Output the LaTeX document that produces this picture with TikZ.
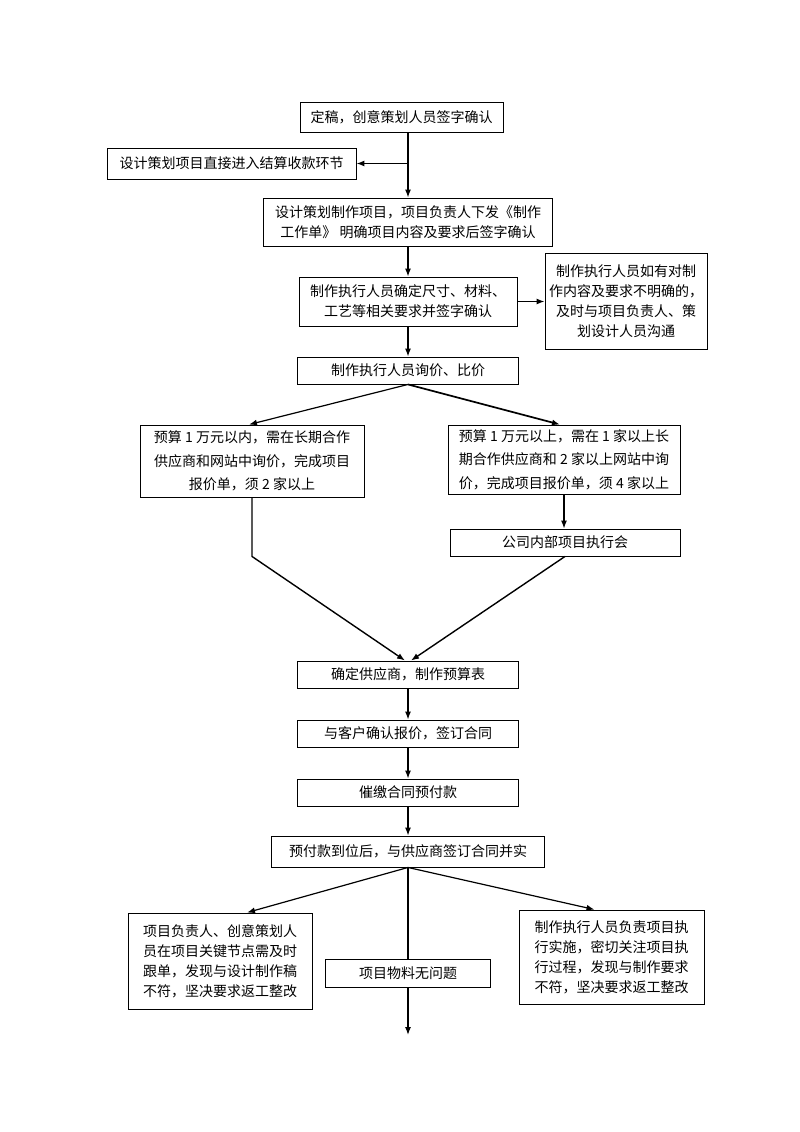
\documentclass[tikz,border=0pt]{standalone}
\usepackage{fontspec}
\newfontfamily\cjk{Noto Sans CJK SC}
\usetikzlibrary{arrows.meta}
\begin{document}
\begin{tikzpicture}[node distance=59pt, >={Latex[length=8pt,width=6pt]},
    procbox/.style={draw, line width=0.9pt, inner sep=0pt, align=center,
        font=\cjk\fontsize{14pt}{20pt}\selectfont},
    tallbox/.style={procbox, font=\cjk\fontsize{14pt}{23.5pt}\selectfont},
    flow/.style={->, line width=1.2pt}]
    \useasboundingbox (0pt,0pt) rectangle (800pt,-1132pt);

    % Sign-off and work order
    \node[procbox, minimum width=203pt, minimum height=30pt] (dg) at (401.5pt,-117pt) {定稿，创意策划人员签字确认};
    \node[procbox, minimum width=249pt, minimum height=31pt, left of=dg, xshift=-111pt, yshift=-46.5pt] (js) {设计策划项目直接进入结算收款环节};
    \node[procbox, minimum width=289pt, minimum height=48pt, below of=dg, xshift=6.5pt, yshift=-46pt] (zz) {设计策划制作项目，项目负责人下发《制作\\工作单》 明确项目内容及要求后签字确认};
    \node[procbox, minimum width=218pt, minimum height=49pt, below of=zz, yshift=-20.5pt] (cc) {制作执行人员确定尺寸、材料、\\工艺等相关要求并签字确认};
    \node[procbox, minimum width=162pt, minimum height=96pt, right of=cc, xshift=159pt] (gt) {制作执行人员如有对制\\作内容及要求不明确的，\\及时与项目负责人、策\\划设计人员沟通};
    \node[procbox, minimum width=221pt, minimum height=27pt, below of=cc, yshift=-10pt] (xj) {制作执行人员询价、比价};

    % Budget branches
    \node[tallbox, minimum width=224pt, minimum height=72pt, below of=xj, xshift=-156pt, yshift=-31.5pt] (ln) {预算 1 万元以内，需在长期合作\\供应商和网站中询价，完成项目\\报价单，须 2 家以上};
    \node[tallbox, minimum width=232pt, minimum height=69pt, below of=xj, xshift=156pt, yshift=-30pt] (rn) {预算 1 万元以上，需在 1 家以上长\\期合作供应商和 2 家以上网站中询\\价，完成项目报价单，须 4 家以上};
    \node[procbox, minimum width=230pt, minimum height=27pt, below of=rn, xshift=1pt, yshift=-24pt] (hy) {公司内部项目执行会};

    % Supplier and contract
    \node[procbox, minimum width=221pt, minimum height=27pt, below of=xj, yshift=-245pt] (gy) {确定供应商，制作预算表};
    \node[procbox, minimum width=221pt, minimum height=27pt, below of=gy] (kh) {与客户确认报价，签订合同};
    \node[procbox, minimum width=221pt, minimum height=27pt, below of=kh] (cj) {催缴合同预付款};
    \node[procbox, minimum width=273pt, minimum height=31pt, below of=cj] (yf) {预付款到位后，与供应商签订合同并实};

    % Follow-up
    \node[procbox, minimum width=184pt, minimum height=96pt, below of=yf, xshift=-188pt, yshift=-50.5pt] (fz) {项目负责人、创意策划人\\员在项目关键节点需及时\\跟单，发现与设计制作稿\\不符，坚决要求返工整改};
    \node[procbox, minimum width=165pt, minimum height=28pt, below of=yf, yshift=-62.5pt] (wl) {项目物料无问题};
    \node[procbox, minimum width=185pt, minimum height=94pt, below of=yf, xshift=203.5pt, yshift=-46.5pt] (zx) {制作执行人员负责项目执\\行实施，密切关注项目执\\行过程，发现与制作要求\\不符，坚决要求返工整改};
    \coordinate[below of=wl, yshift=-3pt] (end);

    % Connections
    \draw[flow] (dg.south -| zz.north) -- (zz.north);
    \draw[flow] (zz.north |- js.east) -- (js.east);
    \draw[flow] (zz.south) -- (cc.north);
    \draw[flow] (cc.east) -- (gt.west);
    \draw[flow] (cc.south) -- (xj.north);

    \draw[flow] (xj.south) -- ([xshift=-3pt]ln.north);
    \draw[flow, line width=1.7pt] (xj.south) -- ([xshift=-4pt]rn.north);
    \draw[flow] (rn.south) -- (rn.south |- hy.north);
    \draw[flow, line width=1.4pt] (ln.south) -- (ln.south |- hy.south) -- ([xshift=-3pt]gy.north);
    \draw[flow, line width=1.4pt] (hy.south) -- ([xshift=3pt]gy.north);

    \draw[flow] (gy.south) -- (kh.north);
    \draw[flow] (kh.south) -- (cj.north);
    \draw[flow] (cj.south) -- (yf.north);

    \draw[flow] (yf.south) -- ([xshift=27pt]fz.north);
    \draw[flow] (yf.south) -- ([xshift=-17pt]zx.north);
    \draw[line width=1.2pt] (yf.south) -- (wl.north);
    \draw[flow] (wl.south) -- (end);
\end{tikzpicture}
\end{document}
